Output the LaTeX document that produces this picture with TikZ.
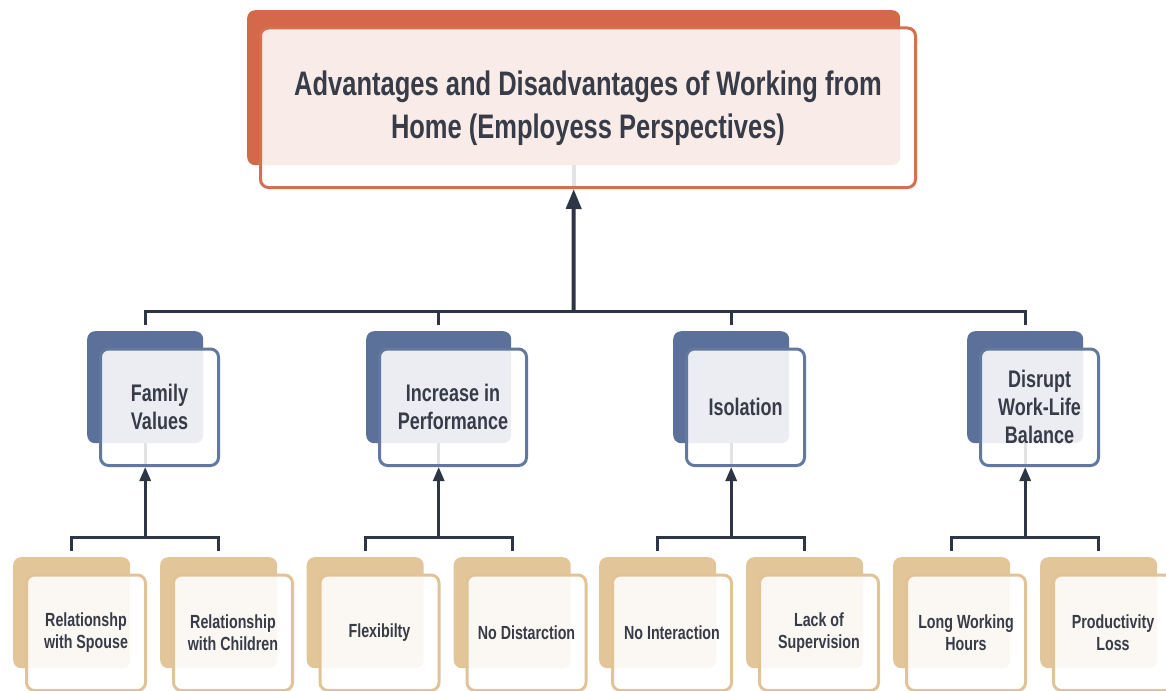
\documentclass[tikz,border=0pt]{standalone}
\usepackage{fontspec}
\setmainfont{Liberation Sans}[FakeStretch=0.75]
\usetikzlibrary{arrows.meta}

\definecolor{orangeB}{HTML}{D4694A}
\definecolor{orangeF}{HTML}{D66E50}
\definecolor{blueB}{HTML}{5C719A}
\definecolor{blueF}{HTML}{6378A0}
\definecolor{tanB}{HTML}{E2C599}
\definecolor{tanF}{HTML}{E2C396}
\definecolor{conn}{HTML}{2E3645}
\definecolor{ink}{HTML}{373C48}

% back panel + framed front card, both anchored at their top-left corner
\newcommand{\dualbox}[7]{%
  \node[#2back, minimum width=#5pt, minimum height=#6pt] (#1b) at (#3,#4) {};
  \node[#2front, minimum width=#5pt+2pt, minimum height=#6pt+4.5pt] (#1) at ({#3+12},{#4+16.5}) {#7};
}

\begin{document}
\begin{tikzpicture}[x=1pt,y=-1pt,
  boxbase/.style={rectangle, rounded corners=8pt, anchor=north west, inner sep=0pt},
  tback/.style={boxbase, fill=orangeB},
  mback/.style={boxbase, fill=blueB},
  bback/.style={boxbase, fill=tanB},
  frontbase/.style={boxbase, fill=white, fill opacity=0.88, text opacity=1,
    align=center, text=ink, line width=3pt},
  tfront/.style={frontbase, draw=orangeF, font=\bfseries\fontsize{34}{43}\selectfont},
  mfront/.style={frontbase, draw=blueF, font=\bfseries\fontsize{24}{28}\selectfont},
  bfront/.style={frontbase, draw=tanF, font=\bfseries\fontsize{19}{22}\selectfont},
  conn/.style={draw=conn, line width=3pt},
  trunk/.style={draw=conn, line width=4pt, -{Triangle[length=20pt,width=15pt]}},
  branch/.style={draw=conn, line width=3pt, -{Triangle[length=14pt,width=11pt]}},
  faint/.style={draw=conn!14!white, line width=3pt},
]
\useasboundingbox (0,0) rectangle (1166,690);
\clip (0,0) rectangle (1166,690);

% title
\dualbox{t}{t}{247}{10}{653}{155}{Advantages and Disadvantages of Working from\\Home (Employess Perspectives)}

% categories
\dualbox{m1}{m}{87}{331}{116}{112}{Family\\Values}
\dualbox{m2}{m}{366}{331}{145}{112}{Increase in\\Performance}
\dualbox{m3}{m}{673}{331}{116}{112}{Isolation}
\dualbox{m4}{m}{967}{331}{116}{112}{Disrupt\\Work-Life\\Balance}

% details
\dualbox{c1}{b}{13}{557}{117}{111}{Relationshp\\with Spouse}
\dualbox{c2}{b}{160}{557}{117}{111}{Relationship\\with Children}
\dualbox{c3}{b}{306.5}{557}{117}{111}{Flexibilty}
\dualbox{c4}{b}{453.5}{557}{117}{111}{No Distarction}
\dualbox{c5}{b}{599}{557}{117}{111}{No Interaction}
\dualbox{c6}{b}{746}{557}{117}{111}{Lack of\\Supervision}
\dualbox{c7}{b}{893}{557}{117}{111}{Long Working\\Hours}
\dualbox{c8}{b}{1040}{557}{117}{111}{Productivity\\Loss}

% connector rails
\coordinate (barA) at (573.5,311);
\coordinate (barB) at (0,537);

% faint traces of the connectors behind the cards
\draw[faint, line width=4pt] (tb.south) -- ([yshift=3pt]tb.south |- t.south);
\foreach \m in {m1,m2,m3,m4}
  \draw[faint] (\m b.south) -- ([yshift=3pt]\m b.south |- \m.south);

% categories -> title
\draw[conn] ([yshift=6pt]m1b.north) -- (m1b.north |- barA) -- (m4b.north |- barA) -- ([yshift=6pt]m4b.north);
\draw[conn] ([yshift=6pt]m2b.north) -- (m2b.north |- barA);
\draw[conn] ([yshift=6pt]m3b.north) -- (m3b.north |- barA);
\draw[trunk] (barA) -- (tb.south |- t.south);

% details -> categories
\foreach \m/\a/\b in {m1/c1/c2, m2/c3/c4, m3/c5/c6, m4/c7/c8}{
  \draw[conn] ([yshift=6pt]\a b.north) -- (\a b.north |- barB) -- (\b b.north |- barB) -- ([yshift=6pt]\b b.north);
  \draw[branch] (\m b.south |- barB) -- (\m b.south |- \m.south);
}
\end{tikzpicture}
\end{document}
